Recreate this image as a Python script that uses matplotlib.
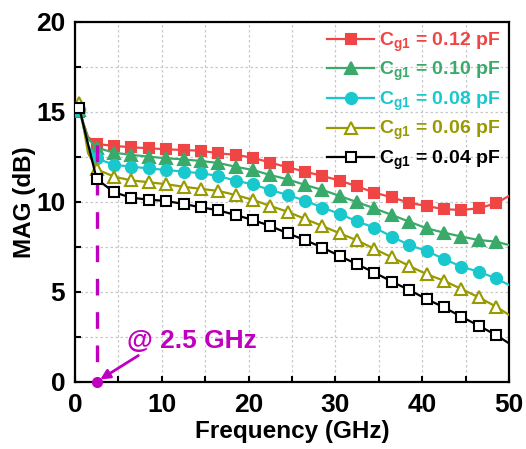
import numpy as np
import matplotlib
matplotlib.use("Agg")
import matplotlib.pyplot as plt
from matplotlib.ticker import MultipleLocator

plt.rcParams["font.family"] = ["Liberation Sans", "DejaVu Sans"]
plt.rcParams["font.weight"] = "bold"
plt.rcParams["mathtext.fontset"] = "custom"
plt.rcParams["mathtext.bf"] = "Liberation Sans:bold"
plt.rcParams["mathtext.rm"] = "Liberation Sans:bold"
plt.rcParams["mathtext.default"] = "bf"

# frequency points (GHz)
freq = [0, 0.5, 1.5, 2.5, 4.5, 6.5, 8.5, 10.5, 12.5, 14.5, 16.5, 18.5, 20.5,
        22.5, 24.5, 26.5, 28.5, 30.5, 32.5, 34.5, 36.5, 38.5, 40.5, 42.5,
        44.5, 46.5, 48.5, 50]

# MAG (dB) for each Cg1
mag_012 = [14.9, 15.0, 13.6, 13.2, 13.1, 13.02, 12.97, 12.91, 12.87, 12.83,
           12.69, 12.6, 12.44, 12.17, 11.91, 11.67, 11.43, 11.17, 10.85,
           10.5, 10.24, 9.94, 9.76, 9.58, 9.54, 9.63, 9.91, 10.32]
mag_010 = [15.0, 15.1, 13.5, 13.0, 12.72, 12.6, 12.5, 12.41, 12.35, 12.26,
           12.15, 11.94, 11.76, 11.48, 11.24, 10.93, 10.65, 10.32, 9.97,
           9.63, 9.26, 8.89, 8.52, 8.28, 8.06, 7.87, 7.78, 7.59]
mag_008 = [14.9, 15.1, 13.1, 12.4, 12.05, 11.94, 11.85, 11.76, 11.67, 11.58,
           11.43, 11.17, 10.96, 10.65, 10.37, 10.06, 9.67, 9.32, 8.9, 8.56,
           8.06, 7.59, 7.26, 6.82, 6.39, 6.11, 5.74, 5.37]
mag_006 = [15.3, 15.5, 12.7, 11.8, 11.39, 11.18, 11.08, 10.97, 10.83, 10.71,
           10.6, 10.37, 10.1, 9.76, 9.44, 9.04, 8.65, 8.24, 7.85, 7.37, 6.91,
           6.43, 5.97, 5.61, 5.15, 4.69, 4.17, 3.71]
mag_004 = [15.0, 15.2, 13.2, 11.26, 10.52, 10.22, 10.11, 10.04, 9.87, 9.69,
           9.52, 9.26, 8.98, 8.65, 8.24, 7.87, 7.45, 6.98, 6.52, 6.06, 5.56,
           5.09, 4.59, 4.13, 3.61, 3.11, 2.59, 2.13]

labels = ["C$_{g1}$ = 0.12 pF", "C$_{g1}$ = 0.10 pF", "C$_{g1}$ = 0.08 pF",
          "C$_{g1}$ = 0.06 pF", "C$_{g1}$ = 0.04 pF"]
marked_freq = 2.5

series = [mag_012, mag_010, mag_008, mag_006, mag_004]
colors = ["#F04545", "#3AAA6A", "#18C8CC", "#999900", "#000000"]
markers = ["s", "^", "o", "^", "s"]
filled = [True, True, True, False, False]
sizes = [7.5, 8.5, 8, 8.5, 6.5]

fig = plt.figure(figsize=(5.26, 4.49), dpi=100)
ax = fig.add_axes([0.1426, 0.150, 0.8251, 0.8017])

mark_idx = [1] + list(range(3, len(freq) - 1))
magenta = "#BF00BF"

for i, (y, c, m, f, s, lab) in enumerate(zip(series, colors, markers, filled, sizes, labels)):
    ax.plot(freq, y, color=c, lw=1.6, marker=m, ms=s, markevery=mark_idx,
            mfc=c if f else "white", mec=c, mew=1.5, label=lab,
            zorder=3 + i if i < 4 else 8)

# dashed marker line at 2.5 GHz
ax.plot([marked_freq, marked_freq], [13.15, 0], color=magenta, lw=2.4,
        linestyle=(0, (5, 5)), zorder=7)
ax.plot([marked_freq], [0], "o", color=magenta, ms=7, clip_on=False, zorder=10)
ax.annotate("", xy=(marked_freq, 0), xytext=(7.3, 1.45),
            arrowprops=dict(arrowstyle="-|>", color=magenta, lw=2,
                            mutation_scale=14, shrinkA=0, shrinkB=3),
            zorder=10)
ax.text(6.0, 1.85, "@ 2.5 GHz", color=magenta, fontsize=19,
        fontweight="bold", va="baseline", ha="left")

ax.set_xlim(0, 50)
ax.set_ylim(0, 20)
ax.xaxis.set_major_locator(MultipleLocator(10))
ax.xaxis.set_minor_locator(MultipleLocator(5))
ax.yaxis.set_major_locator(MultipleLocator(5))
ax.yaxis.set_minor_locator(MultipleLocator(2.5))
ax.tick_params(which="both", direction="in", length=4, width=1.5,
               top=False, right=False)
ax.tick_params(which="major", labelsize=19)
ax.tick_params(axis="y", which="major", pad=7)
ax.tick_params(axis="x", which="major", pad=8.5)
ax.grid(True, which="both", color="#c8c8c8", linestyle=(0, (2, 2)), lw=0.9)
ax.set_axisbelow(True)
for sp in ax.spines.values():
    sp.set_linewidth(1.6)

ax.set_xlabel("Frequency (GHz)", fontsize=17.5, fontweight="bold", labelpad=2)
ax.set_ylabel("MAG (dB)", fontsize=17.5, fontweight="bold", labelpad=0)

leg = ax.legend(loc="upper right", frameon=False, fontsize=14,
                handlelength=2.4, handletextpad=0.25, labelspacing=0.33,
                borderaxespad=0.05)
for txt, c in zip(leg.get_texts(), colors):
    txt.set_color(c)

fig.savefig("out.png", dpi=100)
